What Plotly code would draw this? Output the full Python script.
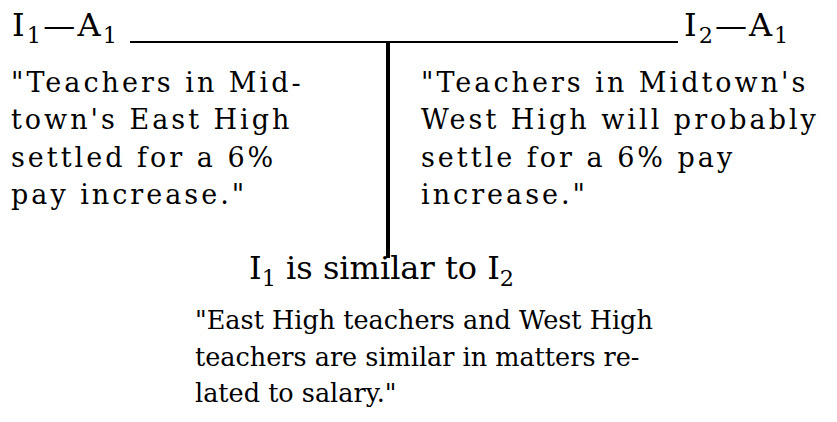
import plotly.graph_objects as go

# ---- content ----
left_label = "I<sub>1</sub>—A<sub>1</sub>"
right_label = "I<sub>2</sub>—A<sub>1</sub>"
left_lines = ['"Teachers in Mid-', "town's East High", "settled for a 6%", 'pay increase."']
right_lines = ['"Teachers in Midtown\'s', "West High will probably", "settle for a 6% pay", 'increase."']
mid_label = "I<sub>1</sub> is similar to I<sub>2</sub>"
bottom_lines = ['"East High teachers and West High', "teachers are similar in matters re-", 'lated to salary."']

W, H = 837, 422
SERIF = "DejaVu Serif, Liberation Serif, serif"
body_font = dict(family=SERIF, size=27, color="black")
bottom_font = dict(family=SERIF, size=25.5, color="black")
label_font = dict(family=SERIF, size=32, color="black")

fig = go.Figure()
fig.add_trace(go.Scatter(x=[0, W], y=[0, H], mode="markers", marker=dict(opacity=0),
                         hoverinfo="skip", showlegend=False))

ann = []
def add(text, x, y, font, xanchor="left", spacing=0):
    if spacing:
        text = '<span style="letter-spacing:%.1fpx">%s</span>' % (spacing, text)
    ann.append(dict(text=text, x=x, y=y, xref="x", yref="y", showarrow=False,
                    xanchor=xanchor, yanchor="middle", font=font, align="left"))

add(left_label, 10, 27, label_font, spacing=2.2)
add(right_label, 792, 27, label_font, xanchor="right", spacing=2.0)
for i, t in enumerate(left_lines):
    add(t, 9, 82 + i * 37.5, body_font, spacing=3.0)
for i, t in enumerate(right_lines):
    add(t, 419, 82 + i * 37.5, body_font, spacing=3.0)
add(mid_label, 247, 270, label_font)
for i, t in enumerate(bottom_lines):
    add(t, 193, 320 + i * 36.5, bottom_font)

fig.update_layout(
    width=W, height=H,
    margin=dict(l=0, r=0, t=0, b=0),
    paper_bgcolor="white", plot_bgcolor="white",
    xaxis=dict(range=[0, W], visible=False, fixedrange=True),
    yaxis=dict(range=[H, 0], visible=False, fixedrange=True),
    annotations=ann,
    shapes=[
        dict(type="line", xref="x", yref="y", x0=130, x1=678, y0=42, y1=42,
             line=dict(color="black", width=2)),
        dict(type="line", xref="x", yref="y", x0=388, x1=388, y0=42, y1=258,
             line=dict(color="black", width=4)),
    ],
    showlegend=False,
)

fig.write_html("out.html", config={"displayModeBar": False},
               post_script="document.body.style.margin='0px';")
